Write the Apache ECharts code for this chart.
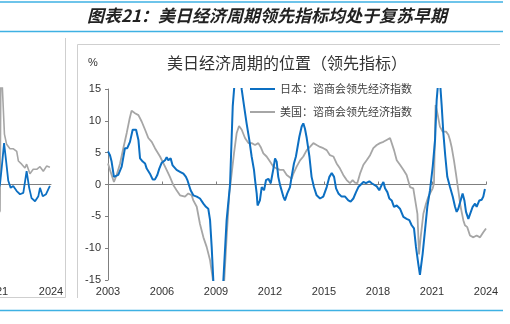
<!DOCTYPE html>
<html>
<head>
<meta charset="utf-8">
<script src="https://cdn.jsdelivr.net/npm/echarts@6/dist/echarts.min.js"></script>
<style>
html,body{margin:0;padding:0;background:#fff;}
#c{width:510px;height:324px;}
</style>
</head>
<body>
<div id="c"></div>
<script>
// ---- data (decimal years, % values) ----
var BASE_YEAR = 2003;
var xTickLabels = ['2003','2006','2009','2012','2015','2018','2021','2024'];
var jpName = '日本：谘商会领先经济指数';
var usName = '美国：谘商会领先经济指数';

var jpYears = [2003.00,2003.11,2003.20,2003.33,2003.44,2003.57,2003.76,2003.94,2004.07,2004.22,2004.37,2004.56,2004.69,2004.78,2004.93,2005.06,2005.15,2005.33,2005.48,2005.61,2005.74,2005.85,2005.98,2006.17,2006.26,2006.35,2006.48,2006.59,2006.81,2007.00,2007.19,2007.33,2007.41,2007.52,2007.59,2007.74,2007.93,2008.11,2008.30,2008.44,2008.57,2008.67,2008.76,2008.85,2009.10,2009.41,2009.59,2009.78,2009.93,2010.20,2010.43,2010.56,2010.70,2010.85,2010.98,2011.11,2011.17,2011.26,2011.31,2011.44,2011.54,2011.67,2011.78,2011.91,2012.04,2012.19,2012.28,2012.37,2012.46,2012.56,2012.74,2012.83,2012.96,2013.11,2013.20,2013.33,2013.44,2013.52,2013.63,2013.76,2013.85,2013.94,2014.04,2014.19,2014.31,2014.44,2014.59,2014.78,2014.96,2015.15,2015.30,2015.43,2015.56,2015.67,2015.80,2015.98,2016.17,2016.35,2016.48,2016.63,2016.78,2016.91,2017.00,2017.19,2017.33,2017.52,2017.65,2017.74,2017.93,2018.07,2018.20,2018.30,2018.39,2018.52,2018.63,2018.76,2018.89,2019.04,2019.22,2019.41,2019.59,2019.74,2019.87,2020.00,2020.11,2020.24,2020.33,2020.48,2020.61,2020.74,2020.89,2021.04,2021.17,2021.26,2021.40,2021.54,2021.63,2021.74,2021.85,2022.00,2022.15,2022.28,2022.37,2022.46,2022.59,2022.70,2022.80,2022.89,2023.02,2023.11,2023.26,2023.39,2023.48,2023.63,2023.76,2023.85,2023.94];
var jpValues = [5.2,4.6,3.6,1.2,1.0,1.5,2.8,5.7,5.7,6.7,8.6,8.6,7.0,4.1,3.6,3.3,2.5,1.7,0.8,0.8,1.5,2.5,3.4,3.8,4.3,3.8,4.1,3.0,2.3,2.0,1.7,1.2,0.7,0.9,-0.9,-1.7,-1.9,-2.2,-3.0,-3.5,-3.8,-5.6,-9.8,-15.0,-28.0,-15.0,-5.6,0.0,12.3,22.0,14.9,12.3,9.6,7.0,4.4,2.3,0.7,-1.4,-3.3,-2.5,-0.4,-0.9,0.7,0.9,0.2,2.5,4.1,3.6,1.2,-0.1,-1.9,-2.5,-1.4,-0.4,1.2,3.3,4.4,5.7,7.5,9.1,9.6,8.8,7.3,4.4,1.2,-0.4,-1.7,-2.2,-1.9,-0.4,1.2,1.8,1.2,-0.6,-1.4,-1.9,-1.9,-2.5,-2.7,-2.2,-1.2,-0.4,-0.1,0.4,0.2,0.5,0.2,0.2,-0.3,-0.9,-0.1,0.4,-0.6,-1.2,-2.2,-2.5,-3.5,-3.3,-3.8,-5.1,-5.4,-5.6,-6.4,-6.9,-9.8,-12.5,-14.2,-10.9,-7.2,-3.5,-0.9,2.8,7.0,13.3,18.0,12.3,8.1,4.4,1.2,-0.4,-1.9,-3.5,-4.3,-3.8,-2.5,-1.4,-2.5,-4.3,-5.4,-5.1,-3.5,-3.0,-3.5,-2.5,-2.4,-1.9,-0.7];

var usYears = [2003.00,2003.11,2003.33,2003.48,2003.67,2003.85,2004.04,2004.19,2004.31,2004.50,2004.69,2004.87,2005.06,2005.24,2005.43,2005.61,2005.89,2006.17,2006.44,2006.63,2006.81,2007.00,2007.28,2007.46,2007.65,2007.74,2007.93,2008.11,2008.30,2008.48,2008.67,2008.81,2009.10,2009.46,2009.59,2009.74,2009.87,2010.00,2010.15,2010.28,2010.43,2010.61,2010.80,2010.98,2011.17,2011.35,2011.48,2011.63,2011.81,2012.00,2012.19,2012.37,2012.56,2012.74,2012.93,2013.20,2013.30,2013.48,2013.67,2013.85,2014.04,2014.22,2014.41,2014.59,2014.78,2014.96,2015.15,2015.33,2015.52,2015.70,2015.89,2016.07,2016.26,2016.44,2016.59,2016.72,2016.85,2017.00,2017.19,2017.37,2017.56,2017.74,2017.93,2018.11,2018.30,2018.48,2018.67,2018.76,2018.89,2019.04,2019.22,2019.41,2019.59,2019.78,2019.96,2020.07,2020.19,2020.28,2020.37,2020.52,2020.67,2020.80,2020.93,2021.04,2021.11,2021.20,2021.30,2021.44,2021.59,2021.78,2021.91,2022.00,2022.09,2022.22,2022.33,2022.46,2022.59,2022.74,2022.83,2022.96,2023.11,2023.30,2023.48,2023.67,2023.85,2024.00];
var usValues = [3.3,2.3,0.4,1.5,3.3,5.7,8.1,10.2,11.6,11.2,10.9,9.9,8.6,7.3,6.7,5.7,4.4,2.8,1.2,-0.1,-0.9,-1.7,-1.9,-1.4,-1.7,-2.5,-3.5,-6.2,-8.3,-9.8,-11.9,-14.6,-22.0,-15.0,-8.3,-1.4,1.7,4.9,8.1,9.2,8.6,7.3,6.5,6.5,6.2,6.5,5.9,4.9,4.4,3.6,2.8,2.5,2.3,2.3,1.5,0.9,1.7,2.8,3.8,4.4,5.4,5.9,6.5,6.2,5.9,5.7,5.4,4.6,4.4,3.3,2.5,1.5,0.7,0.2,0.7,0.3,0.2,1.7,3.1,3.8,4.6,5.7,6.2,6.5,6.7,7.0,7.3,7.0,5.4,3.8,3.1,2.3,1.5,-0.4,-0.6,-0.4,-4.6,-11.0,-8.3,-4.6,-3.0,-1.9,-1.2,-0.6,0.2,12.5,11.2,9.1,8.3,8.3,7.8,7.0,5.9,3.8,1.7,-0.9,-3.5,-5.6,-6.4,-6.7,-8.0,-8.3,-8.0,-8.3,-7.5,-6.9];

// partially visible neighbouring chart on the left
var leftTickLabels = ['2018','2021','2024'];
var leftBlueYears = [2020.90,2021.22,2021.31,2021.44,2021.55,2021.67,2021.80,2021.94,2022.13,2022.31,2022.49,2022.67,2022.81,2022.94,2023.13,2023.31,2023.40,2023.55,2023.73,2023.94];
var leftBlueValues = [-3.0,0.0,2.5,6.4,3.6,0.5,-0.6,-0.3,-1.1,-1.6,-1.4,2.0,-0.6,-2.2,-2.7,-1.9,-0.6,-1.9,-1.6,-0.3];
var leftGreyYears = [2020.90,2021.22,2021.27,2021.46,2021.58,2021.76,2021.95,2022.13,2022.22,2022.40,2022.58,2022.67,2022.85,2023.03,2023.22,2023.40,2023.58,2023.76,2023.94];
var leftGreyValues = [-6.0,-4.2,20.0,7.8,6.2,5.5,5.5,5.1,3.6,3.1,2.5,3.1,1.6,2.3,2.3,2.7,2.0,2.8,2.6];

function pairs(xs, ys) {
  var out = [];
  for (var i = 0; i < xs.length; i++) out.push([xs[i] - BASE_YEAR, ys[i]]);
  return out;
}

var BLUE = '#0c6fc2';
var GREY = '#a6a6a6';
var AXIS = '#7f7f7f';
var NUMFONT = "'Liberation Sans', Arial, sans-serif";
var CJK = "'Noto Sans CJK SC', sans-serif";

var chart = echarts.init(document.getElementById('c'), null, {renderer: 'canvas'});
chart.setOption({
  backgroundColor: '#ffffff',
  animation: false,
  title: {
    text: '美日经济周期的位置（领先指标）',
    left: 167, top: 55, padding: 0,
    textStyle: {fontSize: 16, fontWeight: 'normal', color: '#333333', fontFamily: CJK}
  },
  legend: {
    orient: 'vertical', left: 250, top: 82, padding: 0,
    itemWidth: 25, itemHeight: 2, itemGap: 9, icon: 'rect',
    textStyle: {fontSize: 11, color: '#404040', fontFamily: CJK, lineHeight: 14},
    data: [jpName, usName]
  },
  grid: [
    {left: 108, right: 24, top: 89, bottom: 44, containLabel: false, outerBoundsMode: 'none'},
    {left: -59, right: 459, top: 88, bottom: 44, containLabel: false, outerBoundsMode: 'none'}
  ],
  xAxis: [
    { // labels at the bottom of the main chart
      type: 'value', gridIndex: 0, min: 0, max: 21, interval: 3, position: 'bottom',
      axisLine: {show: false, onZero: false}, axisTick: {show: false},
      splitLine: {show: false},
      axisLabel: {
        margin: 6, fontSize: 11, color: '#333333', fontFamily: NUMFONT,
        formatter: function (v) { return xTickLabels[Math.round(v / 3)]; }
      }
    },
    { // zero line with ticks in the main chart
      type: 'value', gridIndex: 0, min: 0, max: 21, interval: 3, position: 'bottom',
      axisLine: {show: true, onZero: true, lineStyle: {color: AXIS, width: 1}},
      axisTick: {show: true, inside: true, length: 3, lineStyle: {color: AXIS}},
      splitLine: {show: false}, axisLabel: {show: false}
    },
    { // labels of the left partial chart
      type: 'value', gridIndex: 1, min: 15, max: 21, interval: 3, position: 'bottom',
      axisLine: {show: false, onZero: false}, axisTick: {show: false},
      splitLine: {show: false},
      axisLabel: {
        margin: 6, fontSize: 11, color: '#333333', fontFamily: NUMFONT,
        formatter: function (v) { return leftTickLabels[Math.round((v - 15) / 3)]; }
      }
    },
    { // zero line of the left partial chart
      type: 'value', gridIndex: 1, min: 15, max: 21, interval: 3, position: 'bottom',
      axisLine: {show: true, onZero: true, lineStyle: {color: AXIS, width: 1}},
      axisTick: {show: false}, splitLine: {show: false}, axisLabel: {show: false}
    }
  ],
  yAxis: [
    {
      type: 'value', gridIndex: 0, min: -15, max: 15, interval: 5,
      axisLine: {show: true, lineStyle: {color: AXIS, width: 1}},
      axisTick: {show: true, length: 3, lineStyle: {color: AXIS}},
      splitLine: {show: false},
      axisLabel: {margin: 7, fontSize: 11, color: '#333333', fontFamily: NUMFONT}
    },
    {
      type: 'value', gridIndex: 1, min: -15, max: 15,
      axisLine: {show: false}, axisTick: {show: false},
      axisLabel: {show: false}, splitLine: {show: false}
    }
  ],
  series: [
    {
      name: usName, type: 'line', xAxisIndex: 1, yAxisIndex: 0,
      data: pairs(usYears, usValues), showSymbol: false, symbol: 'none',
      color: GREY, lineStyle: {color: GREY, width: 1.8}, z: 2
    },
    {
      name: jpName, type: 'line', xAxisIndex: 1, yAxisIndex: 0,
      data: pairs(jpYears, jpValues), showSymbol: false, symbol: 'none',
      color: BLUE, lineStyle: {color: BLUE, width: 2}, z: 3
    },
    {
      name: 'leftGrey', type: 'line', xAxisIndex: 3, yAxisIndex: 1,
      data: pairs(leftGreyYears, leftGreyValues), showSymbol: false, symbol: 'none',
      color: GREY, lineStyle: {color: GREY, width: 1.6}, z: 2
    },
    {
      name: 'leftBlue', type: 'line', xAxisIndex: 3, yAxisIndex: 1,
      data: pairs(leftBlueYears, leftBlueValues), showSymbol: false, symbol: 'none',
      color: BLUE, lineStyle: {color: BLUE, width: 1.8}, z: 3
    }
  ],
  graphic: [
    {type: 'line', shape: {x1: 0, y1: 2, x2: 503, y2: 2}, style: {stroke: '#3eb1e3', lineWidth: 1.5}, silent: true},
    {type: 'line', shape: {x1: 0, y1: 31.5, x2: 503, y2: 31.5}, style: {stroke: '#3eb1e3', lineWidth: 1.5}, silent: true},
    {type: 'line', shape: {x1: 0, y1: 310.5, x2: 503, y2: 310.5}, style: {stroke: '#3eb1e3', lineWidth: 1.5}, silent: true},
    {type: 'line', shape: {x1: 65.5, y1: 38, x2: 65.5, y2: 297.5}, style: {stroke: '#cfcfcf', lineWidth: 1}, silent: true},
    {type: 'line', shape: {x1: 0, y1: 297.5, x2: 65.5, y2: 297.5}, style: {stroke: '#cfcfcf', lineWidth: 1}, silent: true},
    {type: 'line', shape: {x1: 77.5, y1: 44.5, x2: 500, y2: 44.5}, style: {stroke: '#cfcfcf', lineWidth: 1}, silent: true},
    {type: 'line', shape: {x1: 77.5, y1: 44.5, x2: 77.5, y2: 298}, style: {stroke: '#cfcfcf', lineWidth: 1}, silent: true},
    {
      type: 'text', x: 267, y: 16, silent: true,
      style: {
        text: '图表21：美日经济周期领先指标均处于复苏早期',
        font: "italic bold 17px 'Noto Sans CJK SC', sans-serif",
        fill: '#222222', textAlign: 'center', textVerticalAlign: 'middle'
      }
    },
    {
      type: 'text', x: 93, y: 63, silent: true,
      style: {
        text: '%', font: "11px 'Liberation Sans', Arial, sans-serif",
        fill: '#333333', textAlign: 'center', textVerticalAlign: 'middle'
      }
    }
  ]
});
</script>
</body>
</html>
